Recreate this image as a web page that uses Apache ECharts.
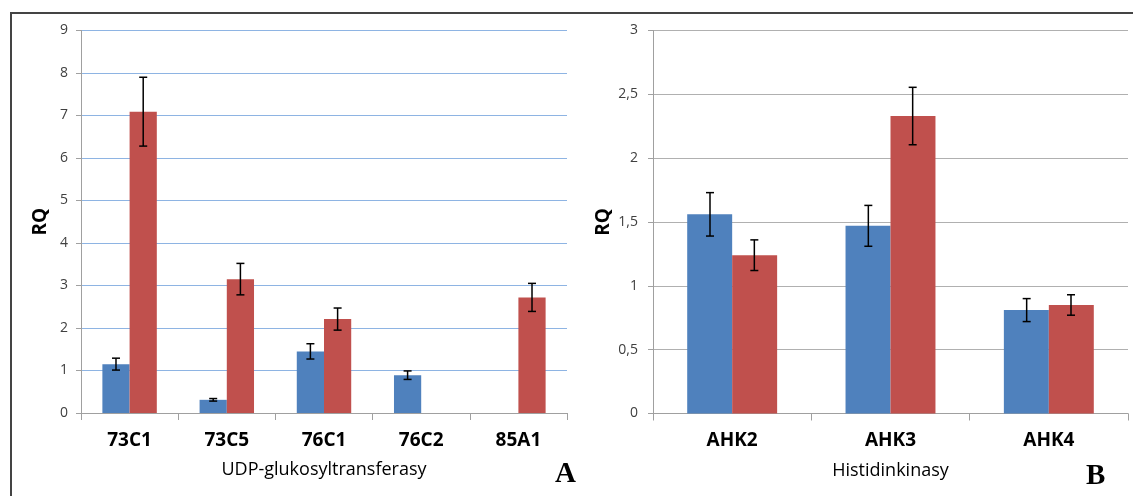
<!DOCTYPE html>
<html><head><meta charset="utf-8">
<script src="https://cdn.jsdelivr.net/npm/echarts@6/dist/echarts.min.js"></script>
<style>html,body{margin:0;padding:0;background:#fff}#c{width:1133px;height:496px}</style>
</head><body><div id="c"></div>
<script>
// Panel A
const catsA = ['73C1','73C5','76C1','76C2','85A1'];
const blueA = [1.15, 0.31, 1.45, 0.89, null];
const blueErrA = [0.14, 0.03, 0.18, 0.10, null];
const redA = [7.09, 3.15, 2.21, null, 2.72];
const redErrA = [0.81, 0.37, 0.26, null, 0.33];
// Panel B
const catsB = ['AHK2','AHK3','AHK4'];
const blueB = [1.56, 1.47, 0.81];
const blueErrB = [0.17, 0.16, 0.09];
const redB = [1.24, 2.33, 0.85];
const redErrB = [0.12, 0.225, 0.08];

const BLUE = '#4f81bd', RED = '#c0504d';
const FONT = '"Open Sans", "Noto Sans", sans-serif';

function errSeries(xi, yi, vals, errs, seriesIdx) {
  const data = vals.map((v, i) => v == null ? null : [i, v, errs[i]]).filter(d => d);
  return {
    type: 'custom', xAxisIndex: xi, yAxisIndex: yi, z: 10,
    renderItem: function (params, api) {
      const i = api.value(0), v = api.value(1), e = api.value(2);
      const size = api.size([1, 0]);
      const bw = size[0] * 0.28;
      const center = api.coord([i, v]);
      const x = center[0] + (seriesIdx === 0 ? -bw / 2 : bw / 2);
      const top = api.coord([i, v + e])[1];
      const bot = api.coord([i, v - e])[1];
      const cap = 4;
      const st = { stroke: '#000', lineWidth: 1.5 };
      return { type: 'group', children: [
        { type: 'line', shape: { x1: x, y1: top, x2: x, y2: bot }, style: st },
        { type: 'line', shape: { x1: x - cap, y1: top, x2: x + cap, y2: top }, style: st },
        { type: 'line', shape: { x1: x - cap, y1: bot, x2: x + cap, y2: bot }, style: st }
      ]};
    },
    data: data
  };
}

const chart = echarts.init(document.getElementById('c'));
const catAxis = (cats, idx, name) => ({
  type: 'category', gridIndex: idx, data: cats,
  axisLine: { lineStyle: { color: '#a0a0a0', width: 1 } },
  axisTick: { show: true, length: 7, lineStyle: { color: '#a0a0a0' } },
  axisLabel: { color: '#000', fontFamily: FONT, fontWeight: 'bold', fontSize: 19, margin: 18 },
  name: name, nameLocation: 'middle', nameGap: 48,
  nameTextStyle: { color: '#000', fontFamily: FONT, fontSize: 18 }
});
const valAxis = (idx, max, interval, gridColor, fmt, margin, gap) => ({
  type: 'value', gridIndex: idx, min: 0, max: max, interval: interval,
  axisLine: { show: true, lineStyle: { color: '#a0a0a0' } },
  axisTick: { show: true, length: 5, lineStyle: { color: '#a0a0a0' } },
  splitLine: { lineStyle: { color: gridColor, width: 1 } },
  axisLabel: { color: '#404040', fontFamily: FONT, fontSize: 14, margin: margin, formatter: fmt },
  name: 'RQ', nameLocation: 'middle', nameGap: gap, nameRotate: 90,
  nameTextStyle: { color: '#000', fontFamily: FONT, fontWeight: 'bold', fontSize: 19 }
});

chart.setOption({
  animation: false,
  grid: [
    { left: 81, top: 30.5, width: 486, height: 382.5 },
    { left: 653, top: 30.5, width: 475, height: 383 }
  ],
  xAxis: [catAxis(catsA, 0, 'UDP-glukosyltransferasy'), catAxis(catsB, 1, 'Histidinkinasy')],
  yAxis: [
    valAxis(0, 9, 1, '#8eb4e3', v => String(v), 13, 31),
    valAxis(1, 3, 0.5, '#b0b0b0', v => String(v).replace('.', ','), 15, 40)
  ],
  graphic: [
    { type: 'rect', shape: { x: 11, y: 13, width: 1200, height: 600 }, style: { fill: 'none', stroke: '#444', lineWidth: 2 }, z: 100 },
    { type: 'text', left: 555, top: 460, style: { text: 'A', font: 'bold 29px "Liberation Serif", serif', fill: '#000' } },
    { type: 'text', left: 1086, top: 462, style: { text: 'B', font: 'bold 29px "Liberation Serif", serif', fill: '#000' } }
  ],
  series: [
    { type: 'bar', xAxisIndex: 0, yAxisIndex: 0, data: blueA, barWidth: '28%', barGap: '0%', itemStyle: { color: BLUE } },
    { type: 'bar', xAxisIndex: 0, yAxisIndex: 0, data: redA, barWidth: '28%', barGap: '0%', itemStyle: { color: RED } },
    { type: 'bar', xAxisIndex: 1, yAxisIndex: 1, data: blueB, barWidth: '28.4%', barGap: '0%', itemStyle: { color: BLUE } },
    { type: 'bar', xAxisIndex: 1, yAxisIndex: 1, data: redB, barWidth: '28.4%', barGap: '0%', itemStyle: { color: RED } },
    errSeries(0, 0, blueA, blueErrA, 0),
    errSeries(0, 0, redA, redErrA, 1),
    errSeries(1, 1, blueB, blueErrB, 0),
    errSeries(1, 1, redB, redErrB, 1)
  ]
});
</script></body></html>
